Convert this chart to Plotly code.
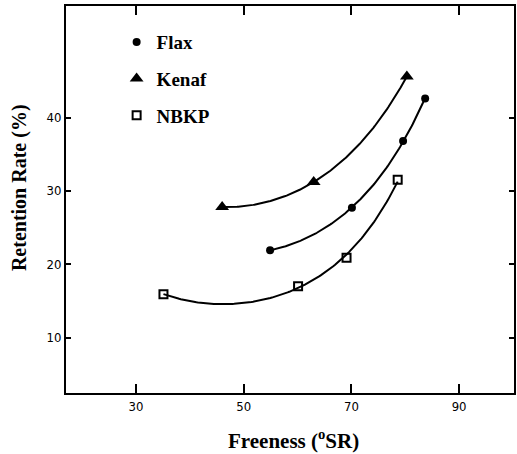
import numpy as np
import plotly.graph_objects as go

# Data
flax_x = [54.9, 70.1, 79.6, 83.7]
flax_y = [21.9, 27.7, 36.8, 42.6]
kenaf_x = [46.0, 63.0, 80.3]
kenaf_y = [27.8, 31.2, 45.6]
nbkp_x = [35.1, 60.1, 69.1, 78.6]
nbkp_y = [15.9, 17.0, 20.9, 31.5]

x_ticks = [30, 50, 70, 90]
y_ticks = [10, 20, 30, 40]

series = [
    ("Flax", flax_x, flax_y, dict(symbol="circle", size=8, color="black")),
    ("Kenaf", kenaf_x, kenaf_y, dict(symbol="triangle-up", size=12, color="black")),
    ("NBKP", nbkp_x, nbkp_y, dict(symbol="square-open", size=8, color="black",
                                   line=dict(width=2, color="black"))),
]

SERIF = "Liberation Serif, Times New Roman, serif"

fig = go.Figure()
for name, xs, ys, mk in series:
    # smooth trend curve: quadratic fit of log(y)
    coef = np.polyfit(xs, np.log(ys), 2)
    fx = np.linspace(min(xs), max(xs), 150)
    fig.add_trace(go.Scatter(x=fx, y=np.exp(np.polyval(coef, fx)), mode="lines",
                             line=dict(color="black", width=2),
                             showlegend=False, hoverinfo="skip"))
for name, xs, ys, mk in series:
    fig.add_trace(go.Scatter(x=xs, y=ys, mode="markers", name=name, marker=mk,
                             legendgroup=name))

axis_common = dict(showgrid=False, zeroline=False, showline=True, linecolor="black",
                   linewidth=2, mirror="ticks", ticks="inside", tickcolor="black",
                   tickwidth=1.5,
                   tickfont=dict(family="Liberation Sans Narrow, DejaVu Sans Condensed, Arial",
                                 size=13, color="black"))

fig.update_layout(
    width=517, height=454,
    margin=dict(l=66, r=1, t=6, b=61),
    paper_bgcolor="white", plot_bgcolor="white",
    xaxis=dict(range=[17, 100.2], tickvals=x_ticks, ticklen=9, **axis_common),
    yaxis=dict(range=[2.45, 55.2], tickvals=y_ticks, ticklen=5, **axis_common),
    legend=dict(x=0.113, y=0.956, xanchor="left", yanchor="top",
                bgcolor="rgba(0,0,0,0)", tracegroupgap=9,
                font=dict(family=SERIF, size=19, color="black", weight="bold")),
    annotations=[
        dict(text="Freeness (<sup>o</sup>SR)", x=0.508, y=-0.12, xref="paper", yref="paper",
             xanchor="center", yanchor="middle", showarrow=False,
             font=dict(family=SERIF, size=21, color="black", weight="bold")),
        dict(text="Retention Rate (%)", x=-0.105, y=0.532, xref="paper", yref="paper",
             xanchor="center", yanchor="middle", showarrow=False, textangle=-90,
             font=dict(family=SERIF, size=20, color="black", weight="bold")),
    ],
)

fig.write_html("out.html")
